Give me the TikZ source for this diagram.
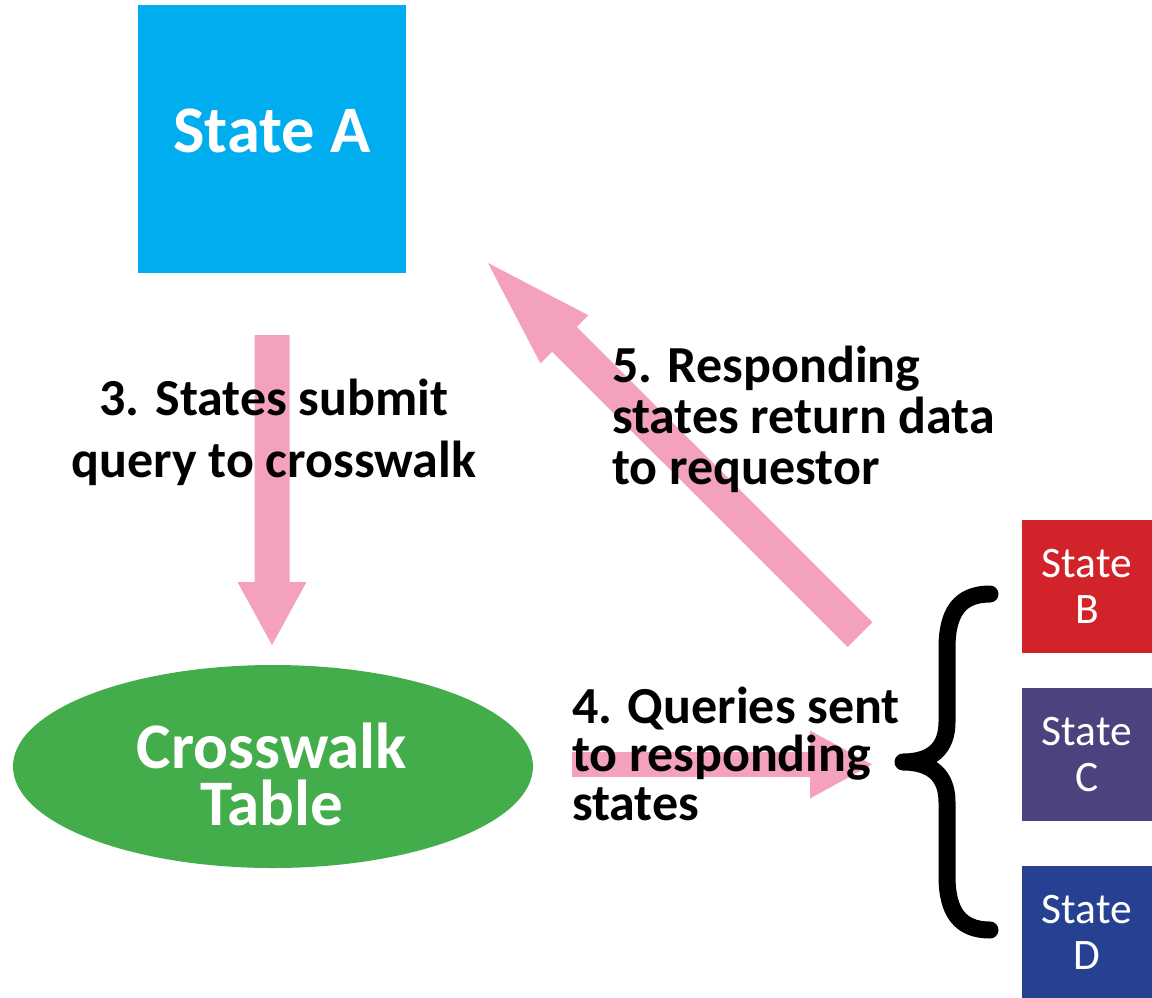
\documentclass[tikz,border=0pt]{standalone}
\usepackage{fontspec}
\setmainfont{Carlito}
\usetikzlibrary{calc,shapes.geometric}

\definecolor{stateAblue}{RGB}{0,173,239}
\definecolor{tablegreen}{RGB}{66,173,74}
\definecolor{flowpink}{RGB}{244,161,192}
\definecolor{stateBred}{RGB}{210,35,42}
\definecolor{stateCpurple}{RGB}{74,67,125}
\definecolor{stateDblue}{RGB}{38,65,145}

% Filled block arrow: #1 tail, #2 tip, #3 half shaft width,
% #4 half head width, #5 head length
\newcommand\blockarrow[5]{%
  \path coordinate (hb) at ($(#2)!#5!(#1)$);
  \fill[flowpink] ($(#1)!#3!90:(#2)$) -- ($(hb)!#3!90:(#2)$)
    -- ($(hb)!#4!90:(#2)$) -- (#2) -- ($(hb)!#4!-90:(#2)$)
    -- ($(hb)!#3!-90:(#2)$) -- ($(#1)!#3!-90:(#2)$) -- cycle;
}

\begin{document}
\begin{tikzpicture}[x=1pt, y=-1pt,
  every node/.style={inner sep=0pt, outer sep=0pt},
  statebox/.style={rectangle, minimum width=130pt, minimum height=133pt,
    text=white, align=center, font=\fontsize{43.5}{46}\selectfont},
  steplabel/.style={align=left, anchor=base west, text=black},
]
\path[use as bounding box] (0,0) rectangle (1152,997);

% requesting state and crosswalk
\node[rectangle, fill=stateAblue, minimum width=268pt, minimum height=268pt,
  text=white, font=\fontsize{66.5}{78}\selectfont\bfseries, text depth=16pt]
  (stateA) at (272,139) {State A};
\node[ellipse, fill=tablegreen, minimum width=520pt, minimum height=203pt]
  (cw) at (273,766.5) {};
\node[text=white, align=center, anchor=base,
  font=\fontsize{65}{57}\selectfont\bfseries]
  (cwlabel) at (272,825) {Crosswalk\\Table};

% responding states
\node[statebox, fill=stateBred] (stateB) at (1087,586.5) {State\\B};
\node[statebox, fill=stateCpurple] (stateC) at (1087,754.5) {State\\C};
\node[statebox, fill=stateDblue] (stateD) at (1087,932) {State\\D};

% curly brace grouping the responding states
\draw[line width=17pt, line cap=round, line join=round]
  (990,594) .. controls (960,594) and (947,612) .. (947,648)
  -- (947,722) .. controls (947,748) and (932,762) .. (903,762)
  .. controls (932,762) and (947,776) .. (947,802)
  -- (947,876) .. controls (947,912) and (960,930) .. (990,930);

% flow arrows
\coordinate (queryTail) at ($(stateA.south)+(0,62)$);
\coordinate (queryTip) at ($(queryTail |- cw.north)+(0,-20)$);
\blockarrow{queryTail}{queryTip}{17.5pt}{34.5pt}{63pt}

\coordinate (sendTail) at ($(cw.east)+(39,-2)$);
\coordinate (sendTip) at ($(cw.east)+(339,-2)$);
\blockarrow{sendTail}{sendTip}{12.5pt}{34pt}{62pt}

\coordinate (returnTail) at ($(stateB.west)+(-162,48)$);
\coordinate (returnTip) at ($(stateA.south east)+(82,-10)$);
\blockarrow{returnTail}{returnTip}{17.5pt}{34pt}{108pt}

% step labels (anchored on the baseline of their last line)
\node[steplabel, align=center, anchor=base,
  font=\fontsize{52}{62}\selectfont\bfseries]
  (queryLabel) at (274,477) {3. States submit\\query to crosswalk};
\node[steplabel, font=\fontsize{52}{48.5}\selectfont\bfseries]
  (sendLabel) at (572,820) {4. Queries sent\\to responding\\states};
\node[steplabel, font=\fontsize{52}{51}\selectfont\bfseries]
  (returnLabel) at (612,484) {5. Responding\\states return data\\to requestor};
\end{tikzpicture}
\end{document}
